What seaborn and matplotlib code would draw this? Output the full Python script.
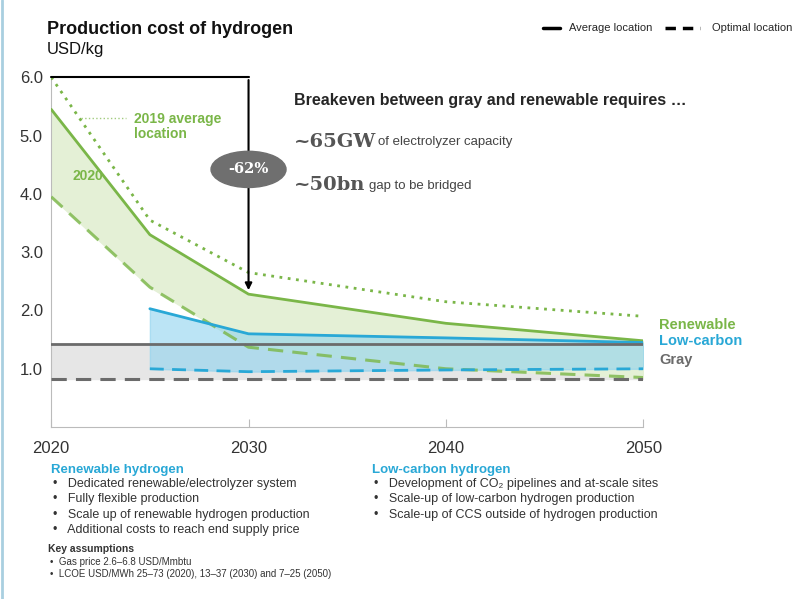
import numpy as np
import matplotlib
matplotlib.use("Agg")
import matplotlib.pyplot as plt
import seaborn as sns
from matplotlib.patches import Ellipse

sns.set_style("white")
plt.rcParams["font.family"] = ["Liberation Sans", "DejaVu Sans"]

years = [2020, 2025, 2030, 2040, 2050]
ren_avg = [5.45, 3.3, 2.28, 1.78, 1.48]
ren_opt = [3.95, 2.4, 1.37, 1.0, 0.85]
ren_2019 = [6.0, 3.55, 2.65, 2.15, 1.9]
lc_years = [2025, 2030, 2040, 2050]
lc_avg = [2.03, 1.6, 1.53, 1.45]
lc_opt = [1.0, 0.95, 0.98, 1.0]
gray_years = [2020, 2050]
gray_avg = [1.43, 1.43]
gray_opt = [0.82, 0.82]

GREEN = "#7ab648"
BLUE = "#29a8d6"
GRAY = "#6b6b6b"

fig = plt.figure(figsize=(8, 5.99), dpi=100)
ax = fig.add_axes([0.064, 0.287, 0.74, 0.584])

ax.fill_between(gray_years, gray_opt, gray_avg, color="#e6e6e6", zorder=1)
ax.fill_between(years, ren_opt, ren_avg, color="#e4f0d6", zorder=2)
ax.fill_between(lc_years, lc_opt, lc_avg, color="#8fd3ef", alpha=0.6, zorder=3)

sns.lineplot(x=years, y=ren_2019, ax=ax, color=GREEN, linestyle=(0, (1, 2)), lw=2, zorder=5)
sns.lineplot(x=years, y=ren_avg, ax=ax, color=GREEN, lw=2, zorder=6)
sns.lineplot(x=years, y=ren_opt, ax=ax, color=GREEN, linestyle=(0, (5, 3)), lw=2.2, alpha=0.8, zorder=6)
sns.lineplot(x=lc_years, y=lc_avg, ax=ax, color=BLUE, lw=2, zorder=7)
sns.lineplot(x=lc_years, y=lc_opt, ax=ax, color=BLUE, linestyle=(0, (5, 3)), lw=2, zorder=7)
sns.lineplot(x=gray_years, y=gray_avg, ax=ax, color=GRAY, lw=2, zorder=8)
sns.lineplot(x=gray_years, y=gray_opt, ax=ax, color=GRAY, linestyle=(0, (5, 3)), lw=2.2, zorder=8)

ax.set_xlim(2020, 2050)
ax.set_ylim(0, 6)
ax.set_xticks([2020, 2030, 2040, 2050])
ax.set_yticks([1, 2, 3, 4, 5, 6])
ax.set_yticklabels(["1.0", "2.0", "3.0", "4.0", "5.0", "6.0"])
ax.tick_params(labelsize=12, colors="#333333", length=0, pad=6)
ax.tick_params(axis="x", direction="in", length=6, color="#bbbbbb", bottom=True, pad=10)
for s in ["top", "right"]:
    ax.spines[s].set_visible(False)
for s in ["left", "bottom"]:
    ax.spines[s].set_color("#bbbbbb")

# -62% arrow
ax.plot([2020, 2030], [6.0, 6.0], color="black", lw=1.5, zorder=9, clip_on=False)
ax.annotate("", xy=(2030, 2.3), xytext=(2030, 6.0),
            arrowprops=dict(arrowstyle="-|>", color="black", lw=1.5), zorder=9)
ax.add_patch(Ellipse((2030, 4.42), 3.8, 0.62, color="#6f6f6f", zorder=10))
ax.text(2030, 4.42, "-62%", ha="center", va="center", color="white",
        fontsize=10.5, fontweight="bold", family="DejaVu Serif", zorder=11)

ax.plot([2021.5, 2023.8], [5.3, 5.3], color=GREEN, linestyle=":", lw=1, alpha=0.7)
ax.text(2024.2, 5.15, "2019 average\nlocation", color=GREEN, fontsize=10,
        fontweight="bold", va="center", linespacing=1.1)
ax.text(2021.1, 4.3, "2020", color=GREEN, fontsize=10, fontweight="bold", va="center")

ax.text(2050.8, 1.75, "Renewable", color=GREEN, fontsize=10.5, fontweight="bold", va="center")
ax.text(2050.8, 1.47, "Low-carbon", color=BLUE, fontsize=10.5, fontweight="bold", va="center")
ax.text(2050.8, 1.15, "Gray", color=GRAY, fontsize=10.5, fontweight="bold", va="center")

fig.text(0.059, 0.943, "Production cost of hydrogen", fontsize=13, fontweight="bold", color="#111111")
fig.text(0.059, 0.91, "USD/kg", fontsize=12, color="#111111")

fig.add_artist(plt.Line2D([0.679, 0.70], [0.953, 0.953], color="black", lw=2.5))
fig.text(0.711, 0.953, "Average location", fontsize=8, va="center")
fig.add_artist(plt.Line2D([0.831, 0.875], [0.953, 0.953], color="black", lw=2.5, linestyle=(0, (3, 2))))
fig.text(0.89, 0.953, "Optimal location", fontsize=8, va="center")

fig.text(0.367, 0.825, "Breakeven between gray and renewable requires \u2026", fontsize=11.5, fontweight="bold")
fig.text(0.367, 0.755, "~65GW", fontsize=14, fontweight="bold", family="DejaVu Serif", color="#555555")
fig.text(0.473, 0.758, "of electrolyzer capacity", fontsize=9.5, color="#444444")
fig.text(0.367, 0.682, "~50bn", fontsize=14, fontweight="bold", family="DejaVu Serif", color="#555555")
fig.text(0.461, 0.685, "gap to be bridged", fontsize=9.5, color="#444444")

fig.text(0.064, 0.21, "Renewable hydrogen", fontsize=9.5, fontweight="bold", color=BLUE)
ren_items = ["Dedicated renewable/electrolyzer system", "Fully flexible production",
             "Scale up of renewable hydrogen production", "Additional costs to reach end supply price"]
for i, t in enumerate(ren_items):
    fig.text(0.066, 0.187 - i * 0.0255, "\u2022   " + t, fontsize=9, color="#333333")
fig.text(0.465, 0.21, "Low-carbon hydrogen", fontsize=9.5, fontweight="bold", color=BLUE)
lc_items = ["Development of CO\u2082 pipelines and at-scale sites",
            "Scale-up of low-carbon hydrogen production",
            "Scale-up of CCS outside of hydrogen production"]
for i, t in enumerate(lc_items):
    fig.text(0.467, 0.187 - i * 0.0255, "\u2022   " + t, fontsize=9, color="#333333")

fig.text(0.06, 0.079, "Key assumptions", fontsize=7.5, fontweight="bold", color="#333333")
fig.text(0.062, 0.057, "\u2022  Gas price 2.6\u20136.8 USD/Mmbtu", fontsize=7, color="#333333")
fig.text(0.062, 0.036, "\u2022  LCOE USD/MWh 25\u201373 (2020), 13\u201337 (2030) and 7\u201325 (2050)", fontsize=7, color="#333333")

fig.add_artist(plt.Line2D([0.003, 0.003], [0, 1], color="#a9cfe0", lw=2))

fig.savefig("out.png", dpi=100)
